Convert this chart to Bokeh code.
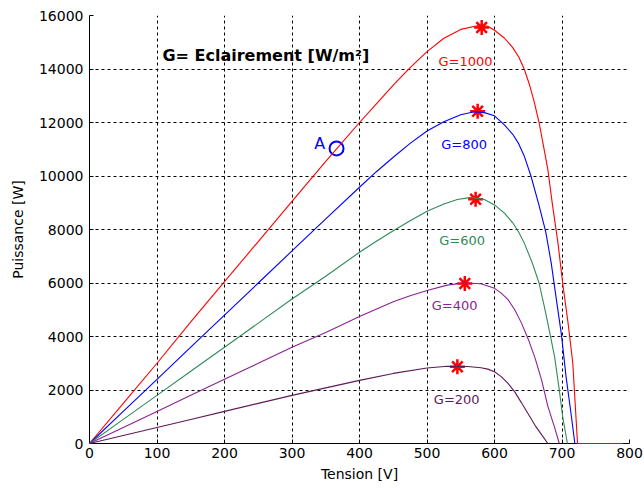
from bokeh.plotting import figure
from bokeh.models import FixedTicker, ColumnDataSource
from bokeh.core.properties import value
from bokeh.embed import file_html
from bokeh.resources import INLINE

# ---- data ----
V_1000 = [0, 50, 100, 150, 200, 250, 300, 350, 400, 425, 450, 475, 500, 525, 550, 575, 590, 600, 615, 627, 636, 644, 652, 659, 666, 672, 679, 686, 694, 701, 709, 716, 723, 790]
P_1000 = [0, 1500, 3000, 4550, 6050, 7550, 9050, 10550, 12000, 12700, 13400, 14050, 14650, 15150, 15480, 15620, 15600, 15450, 15150, 14800, 14450, 14000, 13400, 12750, 12000, 11200, 10250, 8900, 7500, 6000, 4500, 3000, 0, 0]

V_800 = [0, 50, 100, 150, 200, 250, 300, 350, 400, 425, 450, 475, 500, 525, 550, 570, 585, 600, 615, 627, 636, 644, 654, 666, 676, 684, 691, 699, 706, 714, 719]
P_800 = [0, 1200, 2400, 3600, 4800, 6000, 7200, 8400, 9580, 10160, 10700, 11220, 11680, 12030, 12290, 12400, 12370, 12250, 11900, 11560, 11200, 10750, 10000, 8900, 7900, 6750, 5500, 4100, 2500, 1000, 0]

V_600 = [0, 50, 100, 150, 200, 250, 300, 350, 400, 425, 450, 475, 500, 525, 545, 565, 585, 600, 615, 627, 636, 644, 656, 666, 674, 681, 689, 696, 701, 708]
P_600 = [0, 900, 1800, 2700, 3600, 4500, 5400, 6250, 7150, 7560, 7950, 8330, 8680, 8950, 9120, 9200, 9120, 8920, 8600, 8250, 7900, 7500, 6750, 6000, 5100, 4250, 3250, 2000, 1000, 0]

V_400 = [0, 50, 100, 150, 200, 250, 300, 350, 400, 450, 475, 500, 530, 555, 580, 600, 610, 620, 630, 640, 650, 660, 670, 679, 689, 696]
P_400 = [0, 600, 1200, 1800, 2400, 3000, 3600, 4150, 4750, 5300, 5520, 5720, 5920, 6000, 5970, 5800, 5620, 5380, 5000, 4500, 3900, 3200, 2350, 1400, 600, 0]

V_200 = [0, 50, 100, 150, 200, 250, 300, 350, 400, 450, 500, 530, 560, 580, 590, 600, 610, 620, 630, 640, 650, 660, 670, 679]
P_200 = [0, 300, 600, 900, 1200, 1500, 1800, 2080, 2360, 2620, 2820, 2890, 2880, 2830, 2780, 2680, 2500, 2250, 1930, 1520, 1100, 680, 320, 0]

MPP_V = [581, 575, 572, 556, 545]
MPP_P = [15550, 12420, 9130, 5980, 2870]

A_V = [366]
A_P = [11030]

LABELS = ["G=1000", "G=800", "G=600", "G=400", "G=200"]
LABEL_V = [557, 555, 552, 541, 544]
LABEL_P = [14275, 11190, 7580, 5160, 1660]

COLORS = ["#ff0000", "#0000ff", "#2e8b57", "#8b2296", "#5e1b55"]

X_TICKS = [0, 100, 200, 300, 400, 500, 600, 700, 800]
Y_TICKS = [0, 2000, 4000, 6000, 8000, 10000, 12000, 14000, 16000]

FONT = "DejaVu Sans"

p = figure(width=644, height=488, output_backend="svg", toolbar_location=None,
           x_range=(0, 800), y_range=(0, 16000),
           min_border_left=89, min_border_right=15, min_border_top=15, min_border_bottom=45)
p.outline_line_color = None
p.background_fill_color = "white"
p.border_fill_color = "white"

for ax in (p.xaxis[0], p.yaxis[0]):
    ax.major_label_text_font = FONT
    ax.major_label_text_font_size = "14px"
    ax.major_label_text_color = "black"
    ax.axis_label_text_font = FONT
    ax.axis_label_text_font_size = "14px"
    ax.axis_label_text_font_style = "normal"
    ax.axis_label_text_color = "black"
    ax.axis_line_color = "black"
    ax.major_tick_line_color = "black"
    ax.major_tick_in = 4
    ax.major_tick_out = 0
    ax.minor_tick_line_color = None

p.xaxis.ticker = FixedTicker(ticks=X_TICKS)
p.yaxis.ticker = FixedTicker(ticks=Y_TICKS)
p.xaxis.axis_label = "Tension [V]"
p.yaxis.axis_label = "Puissance [W]"
p.xaxis.major_label_standoff = 4
p.xaxis.axis_label_standoff = 5
p.yaxis.major_label_standoff = 6
p.yaxis.axis_label_standoff = 10

for g in (p.xgrid[0], p.ygrid[0]):
    g.grid_line_color = "black"
    g.grid_line_dash = "3 3"
    g.grid_line_width = 1
    g.grid_line_alpha = 1.0

curves = [(V_1000, P_1000), (V_800, P_800), (V_600, P_600), (V_400, P_400), (V_200, P_200)]
for (vv, pp), c in zip(curves, COLORS):
    r = p.line(vv, pp, line_color=c, line_width=1.1)
    r.level = "overlay"

p.scatter(MPP_V, MPP_P, marker="asterisk", size=15, line_color="red", line_width=2.5)

p.scatter(A_V, A_P, marker="circle", size=14, fill_color=None, line_color="blue", line_width=2)
p.text(x=[341], y=[11220], text=["A"], text_font=value(FONT), text_font_size="16px",
       text_color="blue", text_align="center", text_baseline="middle")

src = ColumnDataSource(dict(x=LABEL_V, y=LABEL_P, t=LABELS, c=COLORS))
p.text(x="x", y="y", text="t", text_color="c", source=src, text_font=value(FONT),
       text_font_size="13px", text_align="center", text_baseline="middle")

p.text(x=[108], y=[14520], text=["G= Eclairement [W/m\u00b2]"], text_font=value(FONT),
       text_font_size="16px", text_font_style="bold", text_color="black",
       text_align="left", text_baseline="middle")

open("out.html", "w").write(file_html(p, INLINE))
